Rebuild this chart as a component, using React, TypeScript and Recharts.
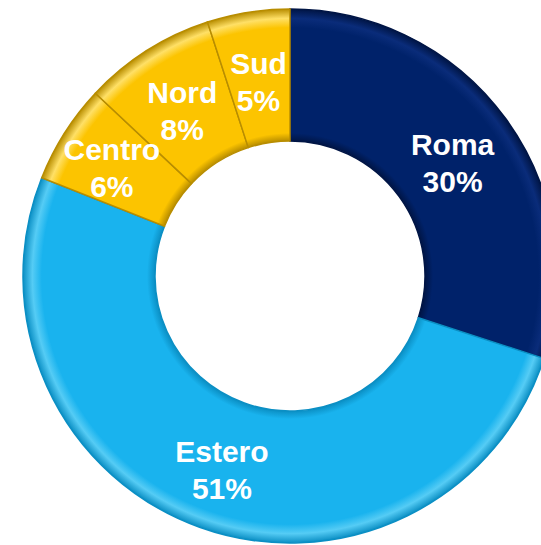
import React from "react";
import { PieChart, Pie, Cell } from "recharts";

const regions = ["Roma", "Estero", "Centro", "Nord", "Sud"];
const shares = [30, 51, 6, 8, 5];
const fills = ["#00226a", "#19b3ee", "#fcc400", "#fcc400", "#fcc400"];
const edges = ["#001545", "#0b8fc4", "#b88d00", "#b88d00", "#b88d00"];
const lights = ["#0a2c7a", "#55ccf5", "#ffe066", "#ffe066", "#ffe066"];

const data = regions.map((name, i) => ({ name, value: shares[i] }));

const RAD = Math.PI / 180;
const CX = 290;
const CY = 276;
const R_IN = 135;
const R_OUT = 267;
// extra radial push for labels that sit close to a neighbour
const labelPush: Record<string, number> = { Centro: 10 };

function renderLabel(props: any) {
  const { cx, cy, midAngle, innerRadius, outerRadius, name, value } = props;
  const r = (innerRadius + outerRadius) / 2 + (labelPush[name] || 0);
  const x = cx + r * Math.cos(-midAngle * RAD);
  const y = cy + r * Math.sin(-midAngle * RAD);
  return (
    <text
      x={x}
      y={y}
      fill="#ffffff"
      textAnchor="middle"
      fontFamily="'Liberation Sans', Arial, sans-serif"
      fontWeight="bold"
      fontSize={30}
    >
      <tspan x={x} dy={-3}>
        {name}
      </tspan>
      <tspan x={x} dy={37}>
        {value}%
      </tspan>
    </text>
  );
}

export default function App() {
  const inner = R_IN / R_OUT;
  return (
    <div style={{ position: "absolute", left: 0, top: 0, width: 541, height: 545, background: "#fff" }}>
      <PieChart width={541} height={545} margin={{ top: 0, right: 0, bottom: 0, left: 0 }}>
        <defs>
          {fills.map((c, i) => (
            <radialGradient
              key={i}
              id={`bevel${i}`}
              gradientUnits="userSpaceOnUse"
              cx={CX}
              cy={CY}
              r={R_OUT}
            >
              <stop offset={inner} stopColor={edges[i]} />
              <stop offset={inner + 0.03} stopColor={c} />
              <stop offset={0.93} stopColor={c} />
              <stop offset={0.965} stopColor={lights[i]} />
              <stop offset={1} stopColor={edges[i]} />
            </radialGradient>
          ))}
        </defs>
        <Pie
          data={data}
          dataKey="value"
          nameKey="name"
          cx={CX}
          cy={CY}
          innerRadius={R_IN}
          outerRadius={R_OUT}
          startAngle={90}
          endAngle={-270}
          paddingAngle={0}
          label={renderLabel}
          labelLine={false}
          isAnimationActive={false}
        >
          {data.map((d, i) => (
            <Cell key={d.name} fill={`url(#bevel${i})`} stroke={edges[i]} strokeWidth={1.5} />
          ))}
        </Pie>
      </PieChart>
    </div>
  );
}
